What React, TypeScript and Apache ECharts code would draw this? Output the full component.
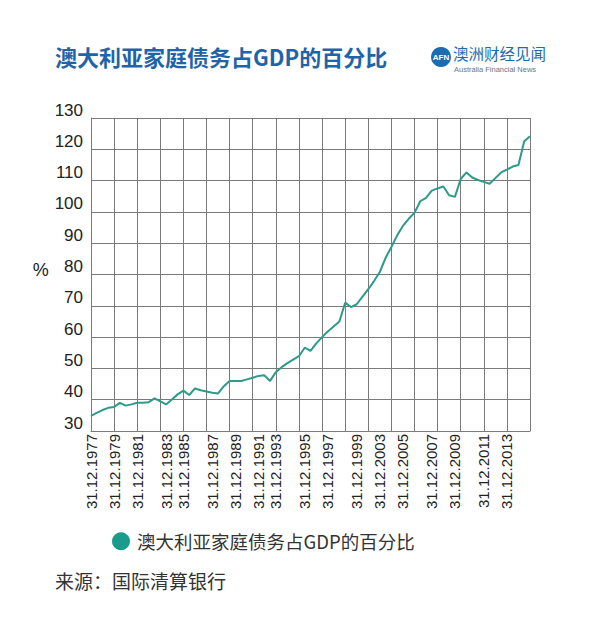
import React, { useEffect, useRef } from "react";
import * as echarts from "echarts";

const titleText = "澳大利亚家庭债务占GDP的百分比";
const seriesName = "澳大利亚家庭债务占GDP的百分比";
const sourceText = "来源：国际清算银行";
const logoCn = "澳洲财经见闻";
const logoEn = "Australia Financial News";

const tickLabels = [
  "31.12.1977", "31.12.1979", "31.12.1981", "31.12.1983", "31.12.1985", "31.12.1987",
  "31.12.1989", "31.12.1991", "31.12.1993", "31.12.1995", "31.12.1997", "31.12.1999",
  "31.12.2003", "31.12.2005", "31.12.2007", "31.12.2009", "31.12.2011", "31.12.2013",
];
const tickIndex = [0, 4, 8, 13, 16, 21, 25, 29, 32, 37, 41, 46, 50, 54, 59, 63, 68, 72];

const debtPct = [
  34.8, 35.8, 36.7, 37.4, 37.7, 39.0, 38.1, 38.5, 39.0, 39.0,
  39.2, 40.4, 39.5, 38.5, 40.1, 41.7, 42.9, 41.5, 43.6, 43.0,
  42.6, 42.2, 42.0, 44.3, 46.0, 46.0, 46.0, 46.5, 47.0, 47.6,
  47.8, 46.0, 48.8, 50.4, 51.7, 52.8, 53.9, 56.6, 55.6, 58.0,
  60.0, 61.8, 63.4, 65.0, 71.0, 69.6, 70.5, 72.9, 75.3, 77.9,
  80.8, 85.3, 88.8, 92.5, 95.5, 97.8, 99.7, 103.4, 104.5, 106.8,
  107.5, 108.1, 105.3, 104.8, 110.5, 112.6, 111.0, 110.2, 109.6, 109.0,
  110.8, 112.6, 113.5, 114.5, 115.0, 122.6, 124.2,
];

const yMin = 30;
const yMax = 130;
const yStep = 10;

const categories = debtPct.map((_, i) => {
  const k = tickIndex.indexOf(i);
  return k >= 0 ? tickLabels[k] : "p" + i;
});

const LATIN = "'Liberation Sans', Arial, 'Noto Sans CJK SC', sans-serif";
const CJK = "'Noto Sans CJK SC', 'Liberation Sans', sans-serif";

export default function App() {
  const ref = useRef<HTMLDivElement>(null);
  useEffect(() => {
    if (!ref.current) return;
    const chart = echarts.init(ref.current, undefined, { renderer: "svg" });
    const gridColor = "#7a7a7a";
    chart.setOption({
      animation: false,
      backgroundColor: "#ffffff",
      grid: { left: 91, top: 118, width: 439, height: 313, containLabel: false },
      legend: {
        left: 112,
        top: 532,
        padding: 0,
        icon: "circle",
        itemWidth: 22,
        itemHeight: 18,
        data: [{ name: seriesName, itemStyle: { color: "#1a9c8c" } }],
        textStyle: { fontSize: 18.5, color: "#333", fontFamily: CJK },
      },
      xAxis: {
        type: "category",
        data: categories,
        boundaryGap: false,
        axisLine: { show: true, lineStyle: { color: gridColor, width: 1 } },
        axisTick: { show: false },
        splitLine: { show: true, interval: 3, lineStyle: { color: gridColor, width: 1 } },
        axisLabel: {
          interval: (index: number) => tickIndex.includes(index),
          rotate: 90,
          margin: 3,
          fontSize: 15,
          color: "#222",
          fontFamily: LATIN,
        },
      },
      yAxis: {
        type: "value",
        min: yMin,
        max: yMax,
        interval: yStep,
        name: "%",
        nameLocation: "middle",
        nameRotate: 0,
        nameGap: 38,
        nameTextStyle: {
          fontSize: 18,
          color: "#222",
          fontFamily: LATIN,
          verticalAlign: "bottom",
          lineHeight: 10,
        },
        axisLine: { show: true, lineStyle: { color: gridColor, width: 1 } },
        axisTick: { show: false },
        splitLine: { show: true, lineStyle: { color: gridColor, width: 1 } },
        axisLabel: {
          margin: 8,
          fontSize: 17,
          color: "#222",
          fontFamily: LATIN,
          verticalAlign: "bottom",
          lineHeight: 16,
        },
      },
      series: [
        {
          name: seriesName,
          type: "line",
          data: debtPct,
          showSymbol: false,
          symbol: "none",
          lineStyle: { color: "#2e9a8a", width: 2 },
          itemStyle: { color: "#2e9a8a" },
        },
      ],
      graphic: [
        {
          type: "text",
          left: 55,
          top: 45,
          style: { text: titleText, fontSize: 22, fontWeight: "bold", fill: "#1f64a8", fontFamily: CJK },
        },
        {
          type: "circle",
          shape: { cx: 441, cy: 57, r: 10 },
          style: { fill: "#1a6db3" },
        },
        {
          type: "text",
          x: 441,
          y: 57,
          style: {
            text: "AFN",
            fontSize: 8,
            fontWeight: "bold",
            fill: "#ffffff",
            align: "center",
            verticalAlign: "middle",
            fontFamily: LATIN,
          },
        },
        {
          type: "text",
          x: 453,
          y: 53,
          style: { text: logoCn, fontSize: 15.5, fill: "#1a6db3", verticalAlign: "middle", fontFamily: CJK },
        },
        {
          type: "text",
          x: 454,
          y: 69,
          style: { text: logoEn, fontSize: 7.5, fill: "#6a7684", verticalAlign: "middle", fontFamily: LATIN },
        },
        {
          type: "text",
          x: 55,
          y: 580,
          style: { text: sourceText, fontSize: 19, fill: "#333", verticalAlign: "middle", fontFamily: CJK },
        },
      ],
    });
    return () => chart.dispose();
  }, []);
  return <div ref={ref} style={{ position: "absolute", left: 0, top: 0, width: 600, height: 633 }} />;
}
